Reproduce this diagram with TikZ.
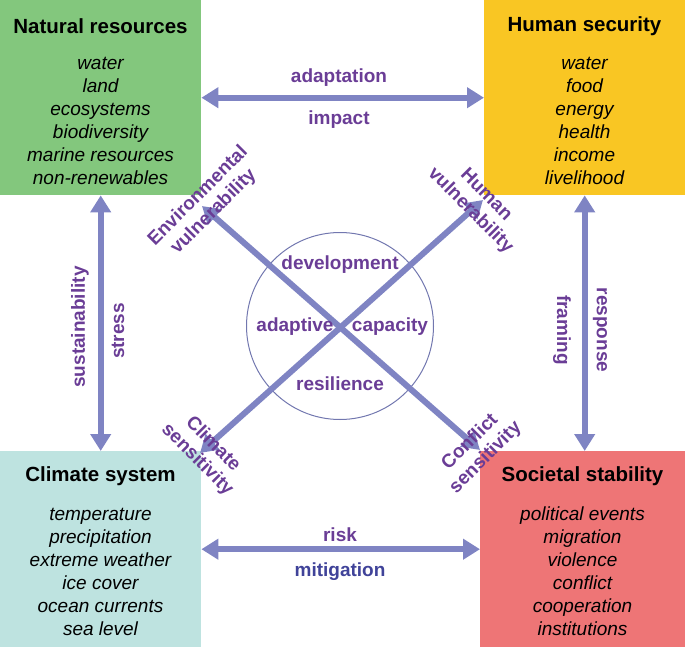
\documentclass[tikz,border=0pt]{standalone}
\usepackage{fontspec}
\setmainfont{Liberation Sans}
\usetikzlibrary{arrows.meta}
\definecolor{natgreen}{HTML}{83C77D}
\definecolor{humyellow}{HTML}{F9C623}
\definecolor{cliteal}{HTML}{BEE3E0}
\definecolor{socred}{HTML}{EE7576}
\definecolor{arrowblue}{HTML}{7F84C3}
\definecolor{labpurple}{HTML}{6A3D96}
\definecolor{mitblue}{HTML}{404399}
\begin{document}
\begin{tikzpicture}[x=1pt,y=-1pt,
  box/.style={anchor=north west,minimum width=201pt,minimum height=195pt,inner sep=0pt},
  title/.style={font=\fontsize{20.5}{24}\selectfont\bfseries},
  items/.style={align=center,font=\fontsize{19}{23}\selectfont\itshape},
  lab/.style={text=labpurple,align=center,inner sep=1pt,font=\fontsize{19}{22}\selectfont\bfseries},
  link/.style={arrowblue,line width=6pt,{Triangle[length=17pt,width=20pt]}-{Triangle[length=17pt,width=20pt]}}]
\useasboundingbox (0,0) rectangle (685,647);
% the four boxes
\node[box,fill=natgreen] (nat) at (0,0) {};
\node[box,fill=humyellow,minimum width=201pt] (hum) at (484,0) {};
\node[box,fill=cliteal,minimum height=196pt] (cli) at (0,451) {};
\node[box,fill=socred,minimum width=205pt,minimum height=196pt] (soc) at (480,451) {};
\node[title] (natT) at (100.5,26) {Natural resources};
\node[title] (humT) at (584.5,26) {Human security};
\node[title] (cliT) at (100.5,476) {Climate system};
\node[title] (socT) at (582.5,476) {Societal stability};
\node[items] (natI) at (100.5,121) {water\\land\\ecosystems\\biodiversity\\marine resources\\non-renewables};
\node[items] (humI) at (584.5,121) {water\\food\\energy\\health\\income\\livelihood};
\node[items] (cliI) at (100.5,571.5) {temperature\\precipitation\\extreme weather\\ice cover\\ocean currents\\sea level};
\node[items] (socI) at (582.5,571.5) {political events\\migration\\violence\\conflict\\cooperation\\institutions};
% links between the boxes
\draw[link] (nat.east) -- (hum.west);
\draw[link] (cli.east) -- (soc.west);
\draw[link] (nat.south) -- (cli.north);
\draw[link] (hum.south) -- (hum.south |- soc.north);
\node[lab] (adapt) at (339,78) {adaptation};
\node[lab] (impact) at (339,120) {impact};
\node[lab] (risk) at (340,535) {risk};
\node[lab,text=mitblue] (mitig) at (340,572) {mitigation};
\node[lab,rotate=90] (sust) at (80,327) {sustainability};
\node[lab,rotate=90] (stress) at (118,331) {stress};
\node[lab,rotate=-90] (fram) at (562,330) {framing};
\node[lab,rotate=-90] (resp) at (600,330) {response};
% the cross and the circle
\coordinate (envT) at (202,206);
\coordinate (conT) at (480,450);
\coordinate (humT2) at (483,200);
\coordinate (cliT2) at (200,453);
\node[draw=arrowblue!90!black,line width=1pt,circle,minimum size=187pt] (cap) at (340,326) {};
\draw[link] (envT) -- (conT);
\draw[link] (humT2) -- (cliT2);
\node[lab] (dev) at (cap.center) [yshift=61pt] {development};
\node[lab] (adap) at (295,327) {adaptive};
\node[lab] (capa) at (390,327) {capacity};
\node[lab] (resil) at (cap.center) [yshift=-58pt] {resilience};
\node[lab,rotate=45] (envV) at (206,204) {Environmental\\vulnerability};
\node[lab,rotate=-45] (humV) at (478,203) {Human\\vulnerability};
\node[lab,rotate=-45] (cliS) at (205,452) {Climate\\sensitivity};
\node[lab,rotate=45] (conS) at (478,450) {Conflict\\sensitivity};
\end{tikzpicture}
\end{document}
